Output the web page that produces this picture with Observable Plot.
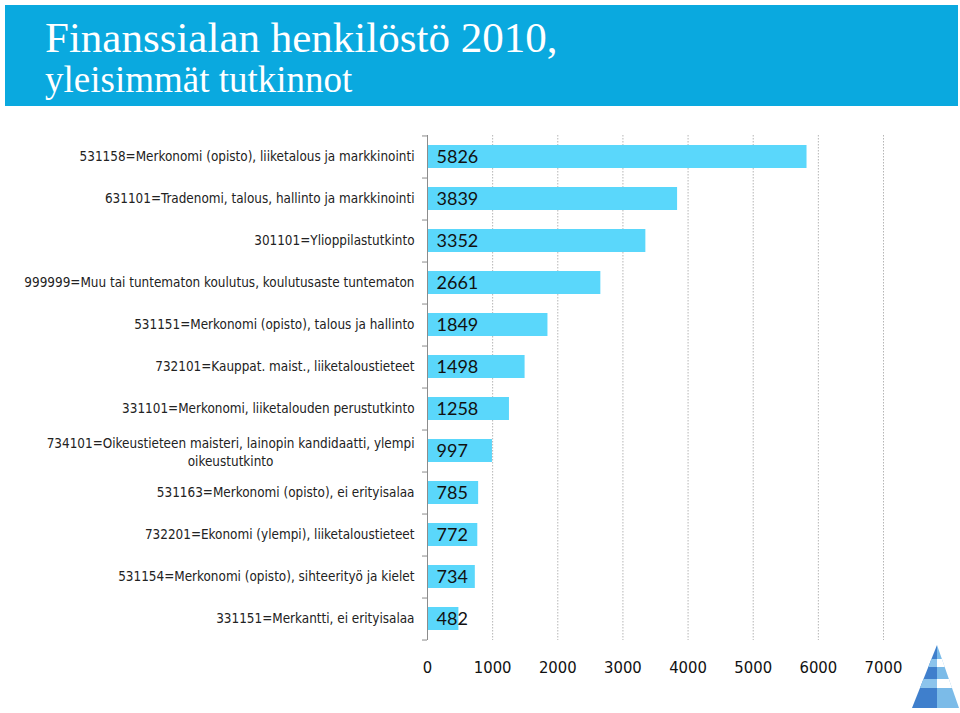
<!DOCTYPE html>
<html>
<head>
<meta charset="utf-8">
<script src="https://cdn.jsdelivr.net/npm/d3@7"></script>
<script src="https://cdn.jsdelivr.net/npm/@observablehq/plot@0.6"></script>
<style>
  html, body { margin: 0; padding: 0; background: #fff; }
  body { width: 960px; height: 713px; position: relative; overflow: hidden; }
  #banner { position: absolute; left: 5px; top: 5px; width: 953px; height: 101px; background: #0aa9df; }
  #banner .t1 { position: absolute; left: 40px; top: 15px; line-height: 0.85; font-family: "Liberation Serif", serif; font-size: 43px; color: #fff; white-space: nowrap; }
  #banner .t2 { position: absolute; left: 40px; top: 59px; line-height: 0.85; font-family: "Liberation Serif", serif; font-size: 37px; color: #fff; white-space: nowrap; }
  #chart { position: absolute; left: 0; top: 110px; }
  #logo { position: absolute; left: 910px; top: 644px; }
</style>
</head>
<body>
<div id="banner">
  <div class="t1">Finanssialan henkilöstö 2010,</div>
  <div class="t2">yleisimmät tutkinnot</div>
</div>
<div id="chart"></div>
<svg id="logo" width="52" height="68" viewBox="0 0 52 68">
  <defs>
    <clipPath id="pyr"><polygon points="27,1 2,64 49,64"/></clipPath>
  </defs>
  <g clip-path="url(#pyr)">
    <rect x="0" y="0" width="27" height="68" fill="#3f7fcc"/>
    <rect x="27" y="0" width="26" height="68" fill="#7bbbe8"/>
    <rect x="0" y="15" width="27" height="8" fill="#8cc4ec"/>
    <rect x="27" y="15" width="26" height="8" fill="#ffffff"/>
    <rect x="0" y="35" width="27" height="9" fill="#8cc4ec"/>
    <rect x="27" y="35" width="26" height="9" fill="#ffffff"/>
  </g>
</svg>
<script>
const categories = [
  "531158=Merkonomi (opisto), liiketalous ja markkinointi",
  "631101=Tradenomi, talous, hallinto ja markkinointi",
  "301101=Ylioppilastutkinto",
  "999999=Muu tai tuntematon koulutus, koulutusaste tuntematon",
  "531151=Merkonomi (opisto), talous ja hallinto",
  "732101=Kauppat. maist., liiketaloustieteet",
  "331101=Merkonomi, liiketalouden perustutkinto",
  "734101=Oikeustieteen maisteri, lainopin kandidaatti, ylempi\noikeustutkinto",
  "531163=Merkonomi (opisto), ei erityisalaa",
  "732201=Ekonomi (ylempi), liiketaloustieteet",
  "531154=Merkonomi (opisto), sihteerityö ja kielet",
  "331151=Merkantti, ei erityisalaa"
];
const values = [5826, 3839, 3352, 2661, 1849, 1498, 1258, 997, 785, 772, 734, 482];
const xTicks = [0, 1000, 2000, 3000, 4000, 5000, 6000, 7000];

const data = categories.map((c, i) => ({label: c, value: values[i]}));

const W = 960, H = 603, mTop = 25, mBottom = 73, mLeft = 427, mRight = 77;
const step = (H - mTop - mBottom) / categories.length;
const labelFont = "DejaVu Sans Condensed, DejaVu Sans, sans-serif";
const labelSize = 13.4;

const ctx = document.createElement("canvas").getContext("2d");
ctx.font = `${labelSize}px ${labelFont}`;
const lineWidth = s => Math.max(...s.split("\n").map(l => ctx.measureText(l).width));

const single = data.filter(d => !d.label.includes("\n"));
const multi = data.filter(d => d.label.includes("\n"));

const chart = Plot.plot({
  width: W, height: H,
  marginTop: mTop, marginBottom: mBottom, marginLeft: mLeft, marginRight: mRight,
  style: {fontFamily: labelFont, color: "#222", background: "#fff"},
  x: {domain: [0, 7000], axis: null},
  y: {domain: categories, paddingInner: 0.45, paddingOuter: 0.225, axis: null},
  marks: [
    Plot.gridX(xTicks.slice(1), {stroke: "#b5b5b5", strokeOpacity: 1, strokeDasharray: "1.5,1.5"}),
    Plot.barX(data, {x: "value", y: "label", fill: "#5ad7fb"}),
    Plot.ruleX([0], {stroke: "#8c8c8c"}),
    Plot.axisY({tickSize: 5, text: null, label: null, stroke: "#8c8c8c", dy: step / 2}),
    Plot.axisY([categories[0]], {tickSize: 5, text: null, label: null, stroke: "#8c8c8c", dy: -step / 2}),
    Plot.text(data, {x: 0, y: "label", text: d => String(d.value), dx: 9, textAnchor: "start",
      fontSize: 18, fontFamily: "Lato, sans-serif", fill: "#111"}),
    Plot.text(single, {x: 0, y: "label", text: "label", dx: -13, textAnchor: "end",
      fontSize: labelSize, fill: "#222"}),
    Plot.text(multi, {x: 0, y: "label", text: "label", dx: -(13 + lineWidth(multi[0].label) / 2),
      textAnchor: "middle", lineAnchor: "middle", lineHeight: 1.35, fontSize: labelSize, fill: "#222"}),
    Plot.axisX(xTicks, {tickSize: 0, tickPadding: 21, fontSize: 16.5, label: null,
      tickFormat: d => String(d), fontFamily: labelFont, fill: "#111"})
  ]
});
document.getElementById("chart").appendChild(chart);
</script>
</body>
</html>
